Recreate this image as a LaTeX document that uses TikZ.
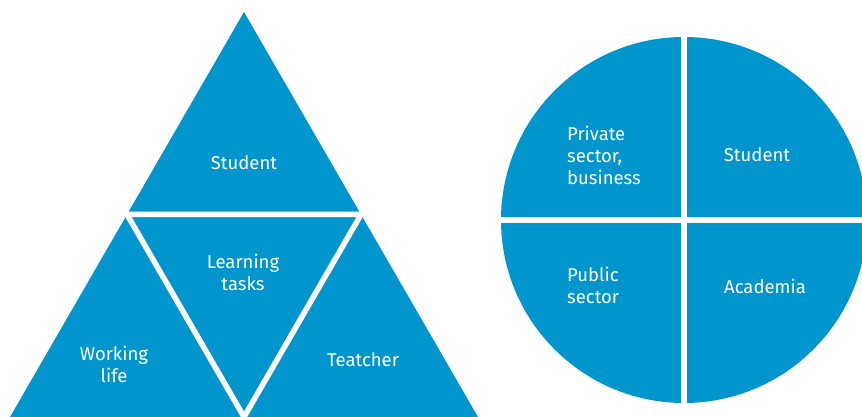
\documentclass[tikz,border=0pt]{standalone}
\usepackage{fontspec}
\setmainfont{Fira Sans}
\usetikzlibrary{positioning}
\definecolor{segblue}{RGB}{0,150,205}

\begin{document}
\begin{tikzpicture}[x=1pt,y=1pt]
    \tikzstyle{segment} = [fill=segblue]
    \tikzstyle{gap} = [draw=white, line width=5.5pt]
    \tikzstyle{seglabel} = [text=white, inner sep=0pt, align=center, font=\fontsize{18.5}{22}\selectfont]

    \useasboundingbox (0,0) rectangle (862,417);
    \clip (0,0) rectangle (862,417);

    % Triangle, cut into four
    \coordinate (apex) at (244,405);
    \coordinate (bl) at (10,0);
    \coordinate (br) at (478,0);
    \coordinate (ml) at (127,202.5);
    \coordinate (mr) at (361,202.5);
    \coordinate (mb) at (244,0);
    \fill[segment] (apex) -- (bl) -- (br) -- cycle;
    \draw[gap] (ml) -- (mr) -- (mb) -- cycle;

    \node[seglabel] (tstudent) at (244,254) {Student};
    \node[seglabel] (tasks) at (243,145) {Learning\\tasks};
    \node[seglabel] (work) at (114,53) {Working\\life};
    \node[seglabel] (teacher) at (363,57) {Teatcher};

    % Circle, cut into quarters
    \coordinate (hub) at (684,197);
    \fill[segment] (hub) circle[radius=183];
    \draw[gap] ([yshift=-190pt]hub) -- ([yshift=190pt]hub);
    \draw[gap] ([xshift=-190pt]hub) -- ([xshift=190pt]hub);

    \node[seglabel, align=left, anchor=west] (private) at (567,262) {Private\\sector,\\business};
    \node[seglabel] (cstudent) at (757,262) {Student};
    \node[seglabel, align=left, anchor=west] (public) at (567,132) {Public\\sector};
    \node[seglabel] (academia) at (765,131) {Academia};

\end{tikzpicture}
\end{document}
